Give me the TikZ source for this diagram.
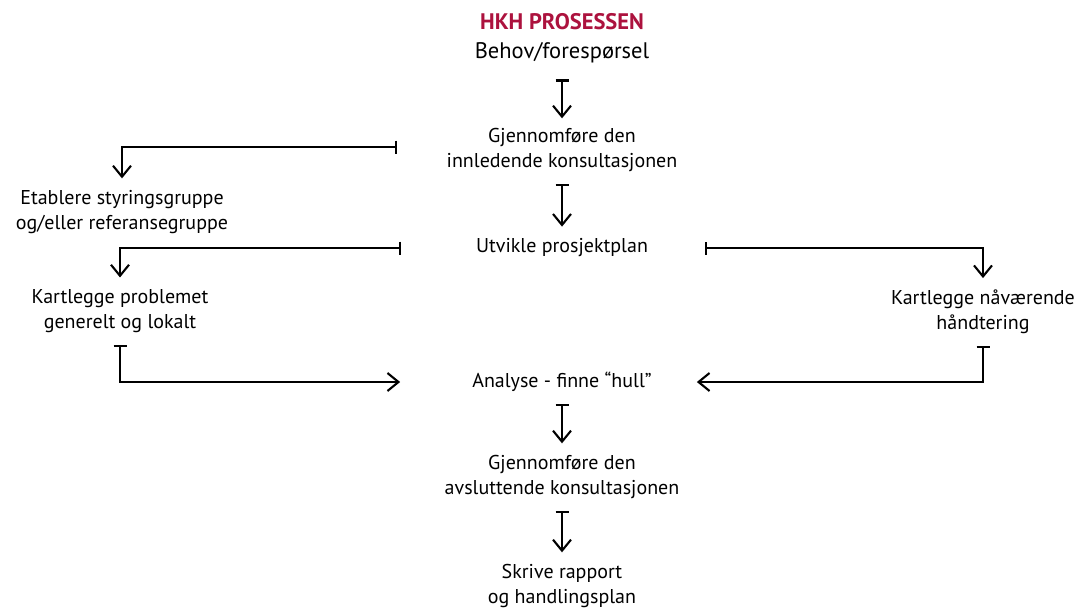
\documentclass[tikz,border=0pt]{standalone}
\usepackage{fontspec}
\setmainfont{PT Sans}
\usetikzlibrary{arrows.meta}
\definecolor{hkhred}{RGB}{172,18,62}
\newcommand{\stagefont}{\fontsize{20}{24.5}\selectfont}
\newcommand{\headfont}{\fontsize{22.5}{26}\selectfont}
\tikzset{
    stage/.style={align=center, font=\stagefont, inner xsep=4pt, inner ysep=12pt},
    flow/.style={line width=2.1pt, {Bar[width=13pt]}-{Straight Barb[length=11pt,width=18pt]}},
}

\begin{document}
\begin{tikzpicture}[x=1pt, y=-1pt]
    \useasboundingbox (0,0) rectangle (1076,608);

    % main column
    \node[stage, font=\headfont, inner ysep=2pt, text=hkhred] (title) at (562,22) {\textbf{HKH PROSESSEN}};
    \node[stage, font=\headfont, inner ysep=2pt] (behov) at (562,53) {Behov/forespørsel};
    \node[stage] (innl) at (562,150) {Gjennomføre den\\innledende konsultasjonen};
    \node[stage] (plan) at (562,248) {Utvikle prosjektplan};
    \node[stage] (hull) at (562,382) {Analyse - finne “hull”};
    \node[stage] (avsl) at (562,477) {Gjennomføre den\\avsluttende konsultasjonen};
    \node[stage] (rapp) at (562,586) {Skrive rapport\\og handlingsplan};

    % side branches
    \node[stage] (styr) at (122,212) {Etablere styringsgruppe\\og/eller referansegruppe};
    \node[stage] (probl) at (120,311) {Kartlegge problemet\\generelt og lokalt};
    \node[stage] (naa) at (983,312) {Kartlegge nåværende\\håndtering};

    \draw[flow, shorten <=14pt, shorten >=-2pt] (behov) -- (innl);
    \draw[flow] (innl) -- (plan);
    \draw[flow] (hull) -- (avsl);
    \draw[flow] (avsl) -- (rapp);

    \draw[flow, shorten <=45pt] ([yshift=3pt]innl.west) -| (styr);
    \draw[flow, shorten <=71pt] (plan.west) -| (probl);
    \draw[flow, shorten <=53pt] (plan.east) -| (naa);
    \draw[flow, shorten >=68pt] (probl.south) |- (hull.west);
    \draw[flow, shorten >=41pt] (naa.south) |- (hull.east);
\end{tikzpicture}
\end{document}
